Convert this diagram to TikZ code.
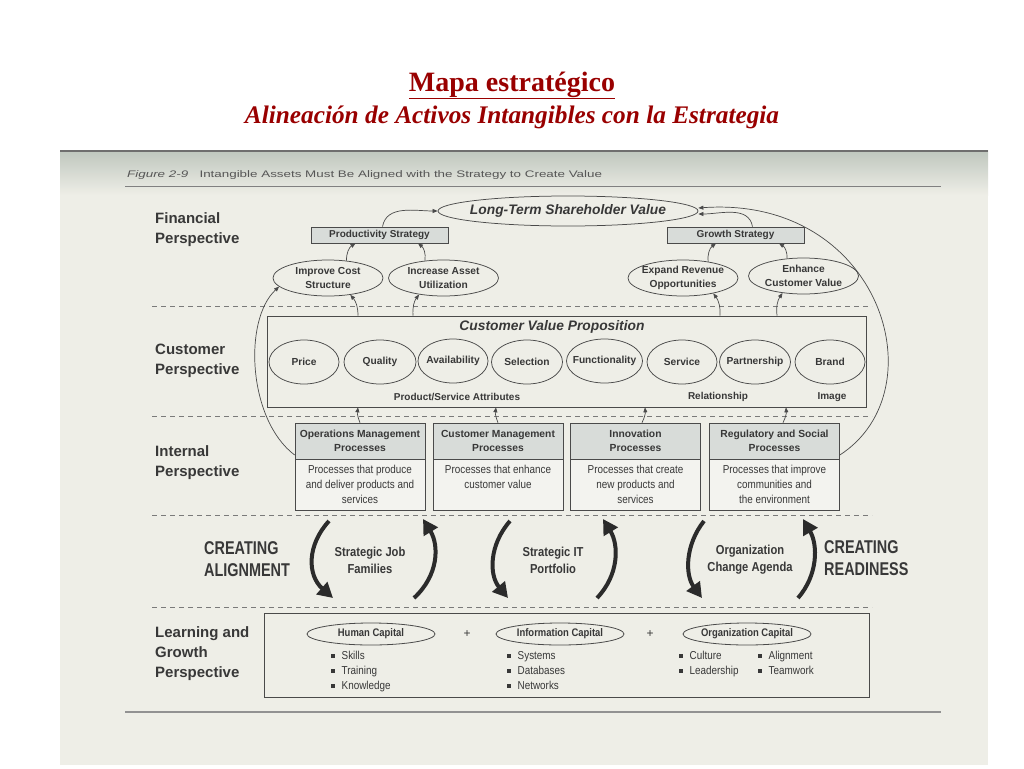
\documentclass[tikz,border=0pt]{standalone}
\usepackage{fontspec}
\usepackage{graphicx}
\setmainfont{Liberation Serif}
\setsansfont{Liberation Sans}
\newfontfamily\narrowsf[FakeStretch=0.86]{Liberation Sans}
\newfontfamily\condsf[FakeStretch=0.78]{Liberation Sans}
\usetikzlibrary{arrows.meta,shapes.geometric}
\definecolor{txt}{HTML}{383838}
\definecolor{ln}{HTML}{4A4A4A}
\definecolor{dk}{HTML}{2B2B2B}
\definecolor{paper}{HTML}{EEEEE7}
\definecolor{paperdark}{HTML}{BEC6BD}
\definecolor{hdrfill}{HTML}{D8DCD9}
\definecolor{bodyfill}{HTML}{F3F3EF}
\definecolor{titlered}{HTML}{990000}
\definecolor{dashc}{HTML}{7A7A7A}
\newcommand{\nw}[1]{\makebox[0pt]{#1}}
\newcommand{\sqb}{\strut\raisebox{1.2pt}{\rule{3.5pt}{3.5pt}}\hspace{7pt}}
\begin{document}
\begin{tikzpicture}[x=1pt,y=-1pt,
 persp/.style={font=\sffamily\bfseries\fontsize{15}{20}\selectfont, text=txt, align=left, anchor=north west, inner sep=0},
 ov/.style={ellipse, draw=ln, line width=0.75pt, inner sep=0, align=center, text=txt, font=\sffamily\bfseries\fontsize{10.2}{14}\selectfont},
 strat/.style={rectangle, draw=ln, fill=hdrfill, line width=0.7pt, minimum width=137pt, minimum height=16pt, inner sep=0, text=txt, font=\sffamily\bfseries\fontsize{10}{12}\selectfont},
 hdr/.style={rectangle, draw=ln, fill=hdrfill, line width=0.7pt, minimum width=130pt, minimum height=36pt, inner sep=0, align=center, text=txt, font=\sffamily\bfseries\fontsize{10.3}{14}\selectfont},
 bodybox/.style={rectangle, draw=ln, fill=bodyfill, line width=0.7pt, minimum width=130pt, minimum height=51pt, inner sep=0, align=center, text=txt, font=\narrowsf\fontsize{11.5}{15}\selectfont},
 plain/.style={inner sep=0, text=txt, font=\sffamily\bfseries\fontsize{10}{12}\selectfont},
 bul/.style={inner sep=0, anchor=west, align=left, text=txt, font=\narrowsf\fontsize{11.5}{15}\selectfont},
 mid/.style={inner sep=0, align=center, text=txt, font=\narrowsf\bfseries\fontsize{13}{17}\selectfont},
 cre/.style={inner sep=0, align=left, anchor=west, text=txt, font=\condsf\bfseries\fontsize{18.5}{22}\selectfont},
 sm/.style={draw=ln, line width=0.7pt, -{Triangle[length=5pt,width=4pt]}},
 big/.style={draw=dk, line width=4pt, -{Triangle[length=15pt,width=16pt]}},
 sep/.style={draw=dashc, line width=0.7pt, dash pattern=on 5pt off 4pt},
]
\useasboundingbox (0,0) rectangle (1024,768);
\fill[white] (0,0) rectangle (1024,768);
\fill[paper] (60,150) rectangle (988,765);
\shade[top color=paperdark, bottom color=paper] (60,150) rectangle (988,195);
\draw[line width=1.5pt, draw=ln!80] (60,150.75) -- (988,150.75);

% titles
\node[anchor=base, inner sep=0, text=titlered, font=\rmfamily\bfseries\fontsize{28}{30}\selectfont] (title) at (512,91) {\underline{Mapa estratégico}};
\node[anchor=base, inner sep=0, text=titlered, font=\rmfamily\bfseries\itshape\fontsize{25.3}{30}\selectfont] (subtitle) at (512,123) {Alineación de Activos Intangibles con la Estrategia};

% caption
\node[anchor=base west, inner sep=0, text=txt!85, font=\sffamily\fontsize{9.5}{11}\selectfont] (cap) at (127,177.5) {\scalebox{1.41}[1]{\textit{Figure 2-9}\hspace{8pt}Intangible Assets Must Be Aligned with the Strategy to Create Value}};
\draw[draw=ln!70, line width=0.8pt] (125,186) -- (941,186);

% perspective labels
\node[persp] (lfin) at (155,212) {Financial\\Perspective};
\node[persp] (lcus) at (155,344) {Customer\\Perspective};
\node[persp] (lint) at (155,445) {Internal\\Perspective};
\node[persp] (llg) at (155,626) {Learning and\\Growth\\Perspective};

% separators
\draw[sep] (152,306) -- (872,306);
\draw[sep] (152,416) -- (872,416);
\draw[sep] (152,515) -- (872,515);
\draw[sep] (152,607) -- (872,607);

% financial
\node[ov, minimum width=260pt, minimum height=30pt, font=\sffamily\bfseries\itshape\fontsize{13.8}{16}\selectfont] (ltsv) at (568,211) {\nw{Long-Term Shareholder Value}};
\node[strat] (prod) at (379.5,235) {Productivity Strategy};
\node[strat] (grow) at (735.5,235) {Growth Strategy};
\node[ov, minimum width=110pt, minimum height=36pt] (ic) at (328,278) {\nw{Improve Cost}\\\nw{Structure}};
\node[ov, minimum width=110pt, minimum height=36pt] (ia) at (443.5,278) {\nw{Increase Asset}\\\nw{Utilization}};
\node[ov, minimum width=110pt, minimum height=36pt] (er) at (683,278) {\nw{Expand Revenue}\\\nw{Opportunities}};
\node[ov, minimum width=110pt, minimum height=36pt] (ecv) at (803.5,276) {\nw{Enhance}\\\nw{Customer Value}};

% customer
\node[rectangle, draw=ln, line width=0.7pt, minimum width=599pt, minimum height=91pt, inner sep=0] (cvp) at (566.5,361.5) {};
\node[plain, font=\sffamily\bfseries\itshape\fontsize{13.8}{16}\selectfont] (cvpt) at (552,327) {Customer Value Proposition};
\node[ov, minimum width=70pt, minimum height=44pt] (price) at (304,362) {\nw{Price}};
\node[ov, minimum width=72pt, minimum height=44pt] (qual) at (380,362) {\nw{Quality}};
\node[ov, minimum width=70pt, minimum height=44pt] (avail) at (453,361) {\nw{Availability}};
\node[ov, minimum width=71pt, minimum height=44pt] (sel) at (527,362) {\nw{Selection}};
\node[ov, minimum width=76pt, minimum height=44pt] (func) at (604.5,361) {\nw{Functionality}};
\node[ov, minimum width=70pt, minimum height=44pt] (serv) at (682,362) {\nw{Service}};
\node[ov, minimum width=71pt, minimum height=44pt] (part) at (755,362) {\nw{Partnership}};
\node[ov, minimum width=70pt, minimum height=44pt] (brand) at (830,362) {\nw{Brand}};
\node[plain] (psa) at (457,397) {Product/Service Attributes};
\node[plain] (rel) at (718,397) {Relationship};
\node[plain] (img) at (832,397) {Image};

% internal
\node[hdr] (ops) at (360,441) {Operations Management\\Processes};
\node[hdr] (cm) at (498,441) {Customer Management\\Processes};
\node[hdr] (inn) at (635.5,441) {Innovation\\Processes};
\node[hdr] (reg) at (774.5,441) {Regulatory and Social\\Processes};
\node[bodybox] (opsb) at (360,484.5) {Processes that produce\\and deliver products and\\services};
\node[bodybox] (cmb) at (498,484.5) {Processes that enhance\\customer value\\\mbox{}};
\node[bodybox] (innb) at (635.5,484.5) {Processes that create\\new products and\\services};
\node[bodybox] (regb) at (774.5,484.5) {Processes that improve\\communities and\\the environment};

% creating row
\node[cre] (calign) at (204,559) {CREATING\\ALIGNMENT};
\node[cre] (cready) at (824,558) {CREATING\\READINESS};
\node[mid] (sjf) at (370,560) {Strategic Job\\Families};
\node[mid] (sit) at (553,560) {Strategic IT\\Portfolio};
\node[mid] (oca) at (750,560) {Organization\\Change Agenda};

\draw[big] (329,521) .. controls (307,545) and (307,575) .. (333,598);
\draw[big] (414,598) .. controls (439,575) and (439,545) .. (423,519);
\draw[big] (510,521) .. controls (489,545) and (489,575) .. (508,598);
\draw[big] (597,598) .. controls (619,575) and (619,545) .. (603,519);
\draw[big] (704,521) .. controls (685,545) and (685,575) .. (702,598);
\draw[big] (798,598) .. controls (818,575) and (818,545) .. (803,519);

% learning and growth
\node[rectangle, draw=ln, line width=0.8pt, minimum width=605pt, minimum height=84pt, inner sep=0] (lg) at (566.5,655) {};
\node[ov, minimum width=128pt, minimum height=22pt, line width=0.8pt, font=\narrowsf\bfseries\fontsize{11}{14}\selectfont] (hc) at (371,634) {\nw{Human Capital}};
\node[ov, minimum width=128pt, minimum height=22pt, line width=0.8pt, font=\narrowsf\bfseries\fontsize{11}{14}\selectfont] (infc) at (560,634) {\nw{Information Capital}};
\node[ov, minimum width=128pt, minimum height=22pt, line width=0.8pt, font=\narrowsf\bfseries\fontsize{11}{14}\selectfont] (oc) at (747,634) {\nw{Organization Capital}};
\node[plain, font=\sffamily\fontsize{12}{12}\selectfont] (p1) at (467,634) {+};
\node[plain, font=\sffamily\fontsize{12}{12}\selectfont] (p2) at (650,634) {+};
\node[bul] (hcl) at (331,671) {\sqb Skills\\\sqb Training\\\sqb Knowledge};
\node[bul] (infl) at (507,671) {\sqb Systems\\\sqb Databases\\\sqb Networks};
\node[bul] (ocl1) at (679,663.5) {\sqb Culture\\\sqb Leadership};
\node[bul] (ocl2) at (758,663.5) {\sqb Alignment\\\sqb Teamwork};

\draw[draw=ln!60, line width=1.2pt] (125,712) -- (941,712);

% connectors financial
\draw[sm] ([xshift=3pt]prod.north) to[out=80,in=180] (ltsv.west);
\draw[sm] ([xshift=17pt]grow.north) to[out=100,in=0] ([yshift=-3pt]ltsv.east);
\draw[sm] (ic.43) to[bend left=30] ([xshift=-24pt]prod.south);
\draw[sm] (ia.137) to[bend right=30] ([xshift=38.5pt]prod.south);
\draw[sm] (er.33) to[bend left=30] ([xshift=-19.5pt]grow.south);
\draw[sm] (ecv.133) to[bend right=30] ([xshift=43.5pt]grow.south);

% customer -> financial
\draw[sm] ([xshift=-208.5pt]cvp.north) to[bend right=20] (ic.-37);
\draw[sm] ([xshift=-153.5pt]cvp.north) to[bend left=20] (ia.-146);
\draw[sm] ([xshift=153.5pt]cvp.north) to[bend right=20] (er.-27);
\draw[sm] ([xshift=210.5pt]cvp.north) to[bend left=20] (ecv.-141);

% internal -> customer
\draw[sm] (ops.north) to[bend left=15] ([xshift=-208.5pt]cvp.south);
\draw[sm] (cm.north) to[bend left=15] ([xshift=-70.5pt]cvp.south);
\draw[sm] ([xshift=6.5pt]inn.north) to[bend right=15] ([xshift=78.5pt]cvp.south);
\draw[sm] ([xshift=8.5pt]reg.north) to[bend right=15] ([xshift=219.5pt]cvp.south);

% big loops
\draw[sm] ([yshift=-14pt]ops.west) .. controls (248,420) and (243,320) .. (ic.190);
\draw[sm] ([yshift=-14pt]reg.east) .. controls (940,390) and (880,195) .. ([yshift=3pt]ltsv.east);
\end{tikzpicture}
\end{document}
